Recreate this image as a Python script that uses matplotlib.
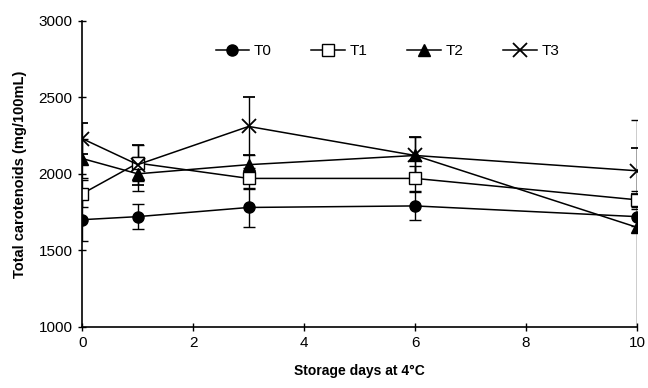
import numpy as np
import matplotlib.pyplot as plt

plt.rcParams['font.family'] = ['Liberation Sans', 'DejaVu Sans']

days = [0, 1, 3, 6, 10]
t0 = [1700, 1720, 1780, 1790, 1720]
t1 = [1870, 2070, 1970, 1970, 1830]
t2 = [2100, 2000, 2060, 2120, 1650]
t3 = [2230, 2060, 2310, 2120, 2020]

t0_err = [140, 80, 125, 90, 60]
t1_err = [90, 120, 70, 80, 60]
t2_err = [130, 110, 60, 120, 700]
t3_err = [100, 130, 190, 120, 150]

fig = plt.figure(figsize=(6.48, 3.88), dpi=100)
ax = fig.add_axes([0.127, 0.158, 0.856, 0.788])

series = [
    (t0, t0_err, 'T0', dict(marker='o', markersize=8, markerfacecolor='black')),
    (t1, t1_err, 'T1', dict(marker='s', markersize=8, markerfacecolor='white')),
    (t2, t2_err, 'T2', dict(marker='^', markersize=8, markerfacecolor='black')),
    (t3, t3_err, 'T3', dict(marker='x', markersize=10, markeredgewidth=1.3)),
]

handles = []
for vals, err, name, style in series:
    cont = ax.errorbar(days, vals, yerr=err, color='black', linewidth=1.1,
                       elinewidth=1.0, capsize=4, capthick=1.0,
                       markeredgecolor='black', label=name, **style)
    handles.append(cont.lines[0])

ax.set_xlim(0, 10)
ax.set_ylim(1000, 3000)
ax.set_xticks([0, 2, 4, 6, 8, 10])
ax.set_yticks([1000, 1500, 2000, 2500, 3000])

ax.spines['top'].set_visible(False)
ax.spines['right'].set_visible(False)
ax.spines['left'].set_linewidth(1.2)
ax.spines['bottom'].set_linewidth(1.2)
ax.tick_params(direction='inout', length=6, width=1, labelsize=11)
ax.tick_params(axis='y', pad=4)

ax.set_xlabel('Storage days at 4°C', fontsize=10, fontweight='bold', labelpad=10)
ax.set_ylabel('Total carotenoids (mg/100mL)', fontsize=10.5, fontweight='bold', labelpad=8)

ax.legend(handles, ['T0', 'T1', 'T2', 'T3'], loc='upper center',
          bbox_to_anchor=(0.55, 0.97), ncol=4, frameon=False,
          fontsize=11, handlelength=2.2, columnspacing=2.6, handletextpad=0.3)

fig.savefig('out.png', dpi=100)
